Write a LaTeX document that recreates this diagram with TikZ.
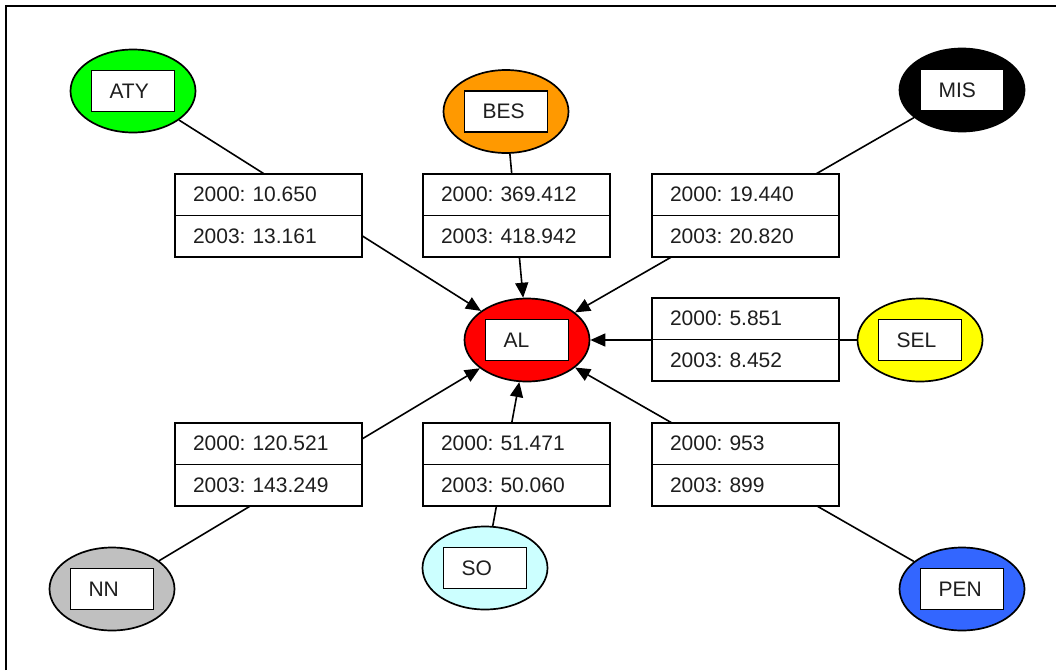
\documentclass[tikz,border=0pt]{standalone}
\usepackage{fontspec}
\setmainfont{Liberation Sans}
\usetikzlibrary{arrows.meta,shapes.geometric}
\definecolor{cgreen}{RGB}{0,255,0}
\definecolor{corange}{RGB}{255,153,0}
\definecolor{cyellow}{RGB}{255,255,0}
\definecolor{cred}{RGB}{255,0,0}
\definecolor{cgray}{RGB}{192,192,192}
\definecolor{ccyan}{RGB}{204,255,255}
\definecolor{cblue}{RGB}{51,102,255}
\definecolor{ctext}{RGB}{30,30,30}
\frenchspacing
\begin{document}
\begin{tikzpicture}[x=1pt,y=-1pt,
  ell/.style={ellipse, draw, line width=1.7pt, minimum width=125pt, minimum height=83pt, inner sep=0pt},
  tag/.style={rectangle, draw, fill=white, line width=1.8pt, minimum height=41pt, inner xsep=18pt, inner ysep=0pt, text width=47pt, align=left, text=ctext, font=\fontsize{21}{24}\selectfont},
  half/.style={rectangle, draw, fill=white, line width=1.8pt, minimum height=41.5pt, inner xsep=18pt, inner ysep=0pt, text width=151pt, align=left, text=ctext, font=\fontsize{21}{24}\selectfont},
  conn/.style={line width=1.6pt, -{Triangle[length=15pt,width=13pt]}}
]
\useasboundingbox (0,0) rectangle (1056,670);
\draw[line width=2pt] (6,670) -- (6,6) -- (1056,6);

% ellipses
\node[ell, fill=cgreen]  (aty) at (133,91) {};
\node[ell, fill=corange] (bes) at (506,111.5) {};
\node[ell, fill=black]   (mis) at (962,90) {};
\node[ell, fill=cyellow] (sel) at (920,340) {};
\node[ell, fill=cred]    (al)  at (527,340) {};
\node[ell, fill=cgray]   (nn)  at (112,589) {};
\node[ell, fill=ccyan]   (so)  at (485,568) {};
\node[ell, fill=cblue]   (pen) at (962,589) {};

\node[tag] (atyt) at (aty) {ATY};
\node[tag] (best) at (bes) {BES};
\node[tag] (mist) at (mis) {MIS};
\node[tag] (selt) at (sel) {SEL};
\node[tag] (alt)  at (al)  {AL};
\node[tag] (nnt)  at (nn)  {NN};
\node[tag] (sot)  at (so)  {SO};
\node[tag] (pent) at (pen) {PEN};

% connectors
\draw[conn] (aty) -- (al);
\draw[conn] (bes) -- (al);
\draw[conn] (mis) -- (al);
\draw[conn] (sel) -- (al);
\draw[conn] (nn)  -- (al);
\draw[conn] (so)  -- (al);
\draw[conn] (pen) -- (al);

% label boxes
\node[half] (atya) at (268.5,194.75) {2000: 10.650};
\node[half] (atyb) at (268.5,236.25) {2003: 13.161};
\node[half] (besa) at (516.5,194.75) {2000: 369.412};
\node[half] (besb) at (516.5,236.25) {2003: 418.942};
\node[half] (misa) at (745.5,194.75) {2000: 19.440};
\node[half] (misb) at (745.5,236.25) {2003: 20.820};
\node[half] (sela) at (745.5,318.75) {2000: 5.851};
\node[half] (selb) at (745.5,360.25) {2003: 8.452};
\node[half] (nna)  at (268.5,443.75) {2000: 120.521};
\node[half] (nnb)  at (268.5,485.25) {2003: 143.249};
\node[half] (soa)  at (516.5,443.75) {2000: 51.471};
\node[half] (sob)  at (516.5,485.25) {2003: 50.060};
\node[half] (pena) at (745.5,443.75) {2000: 953};
\node[half] (penb) at (745.5,485.25) {2003: 899};
\end{tikzpicture}
\end{document}
